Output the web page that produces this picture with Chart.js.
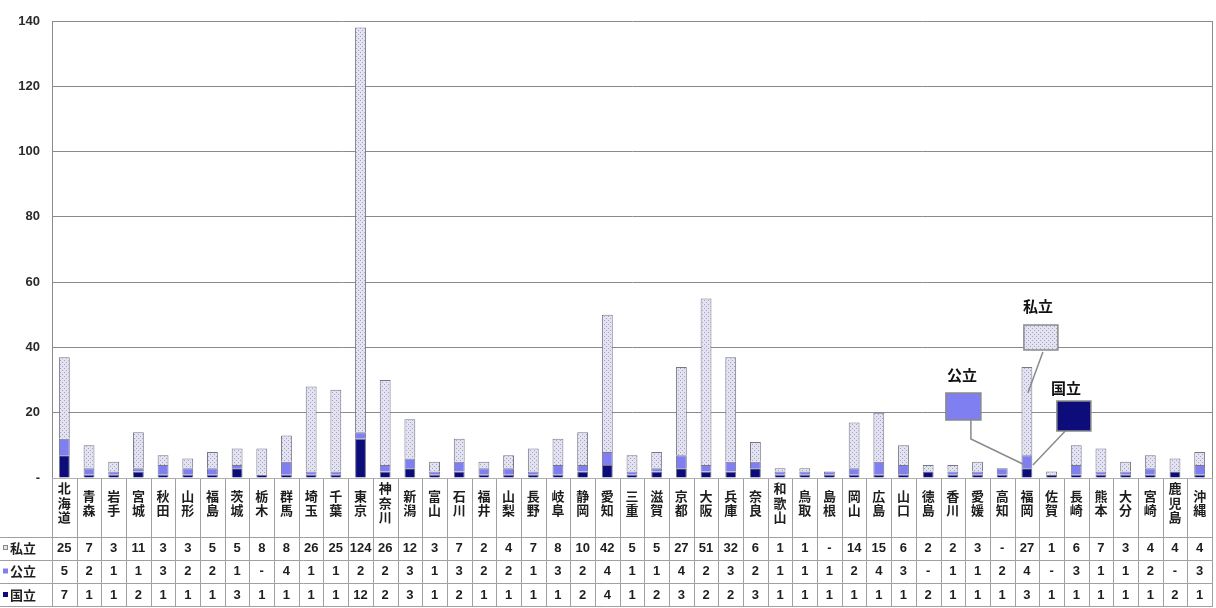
<!DOCTYPE html>
<html lang="ja">
<head>
<meta charset="utf-8">
<title>都道府県別 大学数（国立・公立・私立）</title>
<script src="https://cdn.jsdelivr.net/npm/chart.js@4.4.1/dist/chart.umd.min.js"></script>
<style>
  html, body { margin: 0; padding: 0; background: #ffffff; }
  #wrap { width: 1216px; height: 608px; position: relative; }
</style>
</head>
<body>
<div id="wrap"><canvas id="chart" width="1216" height="608"></canvas></div>
<script>
// 都道府県（北から南へ）
const categories = [
  '北海道','青森','岩手','宮城','秋田','山形','福島','茨城','栃木','群馬',
  '埼玉','千葉','東京','神奈川','新潟','富山','石川','福井','山梨','長野',
  '岐阜','静岡','愛知','三重','滋賀','京都','大阪','兵庫','奈良','和歌山',
  '鳥取','島根','岡山','広島','山口','徳島','香川','愛媛','高知','福岡',
  '佐賀','長崎','熊本','大分','宮崎','鹿児島','沖縄'
];

// 大学数（null は該当なし「-」）
const privateCounts = [
  25, 7, 3, 11, 3, 3, 5, 5, 8, 8,
  26, 25, 124, 26, 12, 3, 7, 2, 4, 7,
  8, 10, 42, 5, 5, 27, 51, 32, 6, 1,
  1, null, 14, 15, 6, 2, 2, 3, null, 27,
  1, 6, 7, 3, 4, 4, 4
];
const publicCounts = [
  5, 2, 1, 1, 3, 2, 2, 1, null, 4,
  1, 1, 2, 2, 3, 1, 3, 2, 2, 1,
  3, 2, 4, 1, 1, 4, 2, 3, 2, 1,
  1, 1, 2, 4, 3, null, 1, 1, 2, 4,
  null, 3, 1, 1, 2, null, 3
];
const nationalCounts = [
  7, 1, 1, 2, 1, 1, 1, 3, 1, 1,
  1, 1, 12, 2, 3, 1, 2, 1, 1, 1,
  1, 2, 4, 1, 2, 3, 2, 2, 3, 1,
  1, 1, 1, 1, 1, 2, 1, 1, 1, 3,
  1, 1, 1, 1, 1, 2, 1
];

const seriesNames = ['私立', '公立', '国立'];
const yTickValues = [0, 20, 40, 60, 80, 100, 120, 140];
const calloutCategory = '福岡';

// colours
const NATIONAL_COLOR = '#0c0c7a';
const PUBLIC_COLOR = '#7f7ff2';
const PRIVATE_BASE = '#e2e2f3';
const BAR_BORDER = '#767686';
const LINE_GREY = '#8a8a8a';
const TEXT_COLOR = '#1e1e1e';
const CJK = '"Noto Sans CJK JP", "Noto Sans", sans-serif';
const LATIN = '"Liberation Sans", Arial, sans-serif';

// light dotted fill used for 私立
function makeDotPattern() {
  const c = document.createElement('canvas');
  c.width = 4; c.height = 4;
  const g = c.getContext('2d');
  g.fillStyle = PRIVATE_BASE;
  g.fillRect(0, 0, 4, 4);
  g.fillStyle = '#a4a4bc';
  g.fillRect(0, 0, 1, 1);
  g.fillRect(2, 2, 1, 1);
  return g.createPattern(c, 'repeat');
}
const privateFill = makeDotPattern();

// data table under the plot + right frame line + callout legend
const dataTablePlugin = {
  id: 'dataTable',
  afterDraw(chart) {
    const { ctx, chartArea, scales } = chart;
    const x = scales.x;
    const colW = x.getPixelForValue(1) - x.getPixelForValue(0);
    const top = chartArea.bottom;
    const rowLines = [top + 59, top + 82, top + 105, top + 128];
    const rowCenters = [top + 70, top + 93.5, top + 117];
    ctx.save();

    // right edge of plot
    ctx.strokeStyle = LINE_GREY;
    ctx.lineWidth = 1;
    ctx.beginPath();
    ctx.moveTo(chartArea.right + 0.5, chartArea.top);
    ctx.lineTo(chartArea.right + 0.5, chartArea.bottom);
    ctx.stroke();

    // table grid
    ctx.strokeStyle = '#a0a0a0';
    ctx.beginPath();
    for (let i = 0; i <= categories.length; i++) {
      const bx = Math.round(x.getPixelForValue(i) - colW / 2) + 0.5;
      ctx.moveTo(bx, top);
      ctx.lineTo(bx, rowLines[3]);
    }
    rowLines.forEach(ly => {
      ctx.moveTo(0, ly + 0.5);
      ctx.lineTo(chartArea.right + 1, ly + 0.5);
    });
    ctx.stroke();

    // base line
    ctx.strokeStyle = '#b0b0b0';
    ctx.beginPath();
    ctx.moveTo(chartArea.left, top + 0.5);
    ctx.lineTo(chartArea.right, top + 0.5);
    ctx.stroke();

    // category names, one character per line
    ctx.fillStyle = TEXT_COLOR;
    ctx.font = `bold 13px ${CJK}`;
    ctx.textAlign = 'center';
    ctx.textBaseline = 'middle';
    const lh = 14.5;
    categories.forEach((name, i) => {
      const cx = x.getPixelForValue(i);
      const chars = Array.from(name);
      const y0 = top + 25 - (chars.length - 1) * lh / 2;
      chars.forEach((ch, k) => ctx.fillText(ch, cx, y0 + k * lh));
    });

    // values
    const rows = [privateCounts, publicCounts, nationalCounts];
    ctx.font = `bold 13px ${LATIN}`;
    rows.forEach((vals, r) => {
      vals.forEach((v, i) => {
        const cx = x.getPixelForValue(i);
        ctx.fillText(v == null ? '-' : String(v), cx, rowCenters[r]);
      });
    });

    // row headers with colour keys
    const keyFills = [PRIVATE_BASE, PUBLIC_COLOR, NATIONAL_COLOR];
    seriesNames.forEach((nm, r) => {
      const cy = rowCenters[r];
      ctx.fillStyle = keyFills[r];
      ctx.fillRect(3, cy - 3, 5, 5);
      if (r === 0) {
        ctx.strokeStyle = '#888';
        ctx.strokeRect(3.5, cy - 2.5, 4, 4);
      }
      ctx.fillStyle = TEXT_COLOR;
      ctx.font = `bold 13px ${CJK}`;
      ctx.textAlign = 'left';
      ctx.fillText(nm, 10, cy);
    });

    // callout legend pointing at one bar
    const idx = categories.indexOf(calloutCategory);
    const fx = x.getPixelForValue(idx);
    const b = chartArea.bottom;
    const boxes = [
      { name: seriesNames[0], fill: privateFill, x: fx - 3, y: b - 153, w: 34, h: 25, lx: fx + 11, ly: b - 172 },
      { name: seriesNames[1], fill: PUBLIC_COLOR, x: fx - 81, y: b - 85, w: 35, h: 27, lx: fx - 65, ly: b - 103 },
      { name: seriesNames[2], fill: NATIONAL_COLOR, x: fx + 30, y: b - 77, w: 34, h: 30, lx: fx + 39, ly: b - 90 }
    ];
    ctx.strokeStyle = LINE_GREY;
    ctx.lineWidth = 1.5;
    ctx.beginPath();
    ctx.moveTo(fx + 16, b - 126); ctx.lineTo(fx + 1, b - 85);
    ctx.moveTo(fx - 56, b - 58); ctx.lineTo(fx - 56, b - 39); ctx.lineTo(fx - 2, b - 13);
    ctx.moveTo(fx + 46, b - 55); ctx.lineTo(fx + 6, b - 13);
    ctx.stroke();
    boxes.forEach(bx => {
      ctx.fillStyle = bx.fill;
      ctx.fillRect(bx.x, bx.y, bx.w, bx.h);
      ctx.strokeStyle = LINE_GREY;
      ctx.lineWidth = 1.5;
      ctx.strokeRect(bx.x, bx.y, bx.w, bx.h);
      ctx.fillStyle = '#111';
      ctx.font = `bold 15px ${CJK}`;
      ctx.textAlign = 'center';
      ctx.textBaseline = 'middle';
      ctx.fillText(bx.name, bx.lx, bx.ly);
    });
    ctx.restore();
  }
};

new Chart(document.getElementById('chart'), {
  type: 'bar',
  data: {
    labels: categories,
    datasets: [
      { label: seriesNames[2], data: nationalCounts, backgroundColor: NATIONAL_COLOR, borderColor: BAR_BORDER, borderWidth: 1 },
      { label: seriesNames[1], data: publicCounts, backgroundColor: PUBLIC_COLOR, borderColor: BAR_BORDER, borderWidth: 1 },
      { label: seriesNames[0], data: privateCounts, backgroundColor: privateFill, borderColor: BAR_BORDER, borderWidth: 1 }
    ]
  },
  options: {
    responsive: false,
    animation: false,
    layout: { padding: { left: 0, right: 4, top: 21, bottom: 130 } },
    datasets: { bar: { barPercentage: 0.44, categoryPercentage: 1 } },
    plugins: { legend: { display: false }, tooltip: { enabled: false } },
    scales: {
      x: { stacked: true, display: false, offset: true },
      y: {
        stacked: true,
        min: yTickValues[0],
        max: yTickValues[yTickValues.length - 1],
        afterFit(scale) { scale.width = 52; },
        afterBuildTicks(scale) { scale.ticks = yTickValues.map(v => ({ value: v })); },
        ticks: {
          padding: 12,
          color: '#2a2a2a',
          font: { family: LATIN, size: 13, weight: 'bold' },
          callback: v => (v === 0 ? '-' : v)
        },
        grid: { color: LINE_GREY, lineWidth: 1, drawTicks: false },
        border: { display: true, color: LINE_GREY }
      }
    }
  },
  plugins: [dataTablePlugin]
});
</script>
</body>
</html>
